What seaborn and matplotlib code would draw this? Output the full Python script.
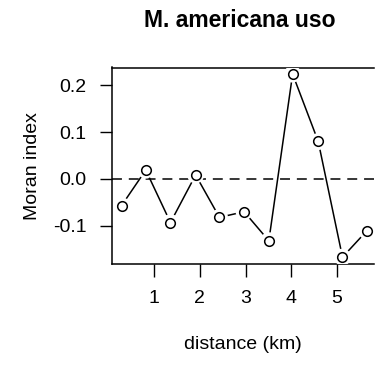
import matplotlib
matplotlib.use("Agg")
import matplotlib.pyplot as plt
import seaborn as sns
import pandas as pd

# Moran's I correlogram values by distance class
distance_km = [0.29, 0.82, 1.36, 1.91, 2.43, 2.97, 3.51, 4.03, 4.59, 5.12, 5.65]
moran_index = [-0.057, 0.019, -0.093, 0.0085, -0.082, -0.070, -0.132, 0.224, 0.080, -0.167, -0.111]
x_ticks = [1, 2, 3, 4, 5]
y_ticks = [-0.1, 0.0, 0.1, 0.2]
y_ticklabels = ["-0.1", "0.0", "0.1", "0.2"]

df = pd.DataFrame({"distance": distance_km, "moran": moran_index})

sns.set_theme(style="white")
plt.rcParams["font.family"] = ["Liberation Sans", "DejaVu Sans"]

W, H = 375, 369
fig = plt.figure(figsize=(W / 100, H / 100), dpi=100)

left_px, right_px, top_px, bottom_px = 111.5, 373.5, 67.5, 264.0
ax = fig.add_axes([left_px / W, 1 - bottom_px / H,
                   (right_px - left_px) / W, (bottom_px - top_px) / H])

# Reference line at zero
ax.axhline(0, color="black", lw=1.1, ls=(0, (6.5, 4.5)), zorder=1)

# Connecting line, broken around each point by white halos
sns.lineplot(data=df, x="distance", y="moran", ax=ax, color="black",
             lw=1.1, zorder=2, estimator=None, sort=False)
sns.scatterplot(data=df, x="distance", y="moran", ax=ax, s=150, color="white",
                edgecolor="none", linewidth=0, zorder=3)
sns.scatterplot(data=df, x="distance", y="moran", ax=ax, s=48, facecolor="white",
                edgecolor="black", linewidth=1.1, zorder=4)

px_per_km = 45.75
x0_px = 108.25
ax.set_xlim((left_px - x0_px) / px_per_km, (right_px - x0_px) / px_per_km)
ax.set_ylim(-0.1816, 0.238)

ax.set_xticks(x_ticks)
ax.set_xticklabels([str(t) for t in x_ticks])
ax.set_yticks(y_ticks)
ax.set_yticklabels(y_ticklabels)

for side in ["left", "bottom", "top"]:
    ax.spines[side].set_visible(True)
    ax.spines[side].set_color("black")
    ax.spines[side].set_linewidth(1.1)
ax.spines["right"].set_visible(False)

ax.tick_params(axis="both", which="both", direction="out", length=9, width=1.0,
               color="black", labelsize=14, labelcolor="black",
               bottom=True, left=True)
ax.tick_params(axis="x", pad=10)
ax.tick_params(axis="y", pad=9)

ax.set_xlabel("distance (km)", fontsize=14, color="black", labelpad=20.4)
ax.set_ylabel("Moran index", fontsize=14, color="black", labelpad=8.6)

fig.text(240 / W, 1 - 27 / H, "M. americana uso", ha="center", va="baseline",
         fontsize=16.5, fontweight="bold", color="black")

fig.savefig("out.png", dpi=100, facecolor="white")
